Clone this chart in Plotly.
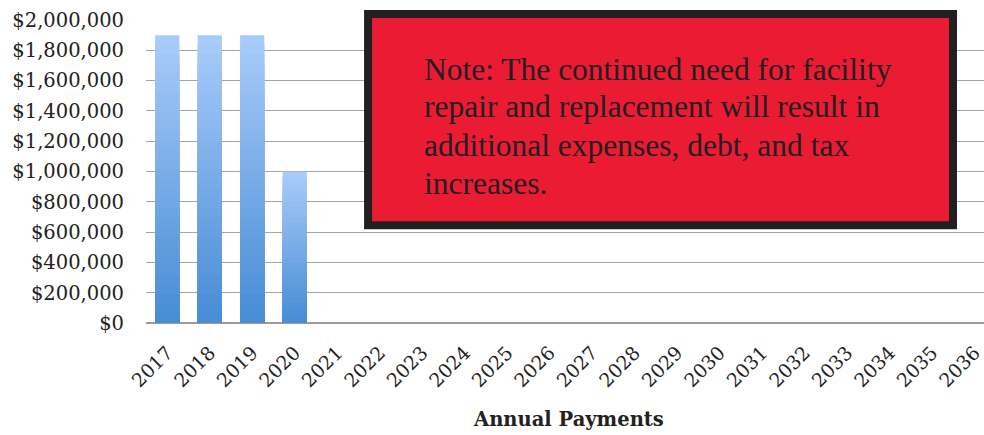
import plotly.graph_objects as go

years = [str(y) for y in range(2017, 2037)]
payments = [1900000, 1900000, 1900000, 1000000] + [0] * 16
y_ticks = list(range(0, 2000001, 200000))
x_title = "Annual Payments"
note_lines = [
    "Note: The continued need for facility",
    "repair and replacement will result in",
    "additional expenses, debt, and tax",
    "increases.",
]

top_rgb = (168, 203, 250)
bot_rgb = (72, 141, 213)
N = 30

fig = go.Figure()
for k in range(N):
    f = 1 - k / N
    t = k / (N - 1)
    c = tuple(round(top_rgb[i] + (bot_rgb[i] - top_rgb[i]) * t) for i in range(3))
    fig.add_trace(go.Bar(
        x=years,
        y=[v * f for v in payments],
        marker=dict(color="rgb(%d,%d,%d)" % c, line=dict(width=0)),
        width=0.57,
        showlegend=False,
        hoverinfo="skip",
    ))

fig.update_layout(
    barmode="overlay",
    width=984, height=435,
    margin=dict(l=146, r=0, t=20, b=112, autoexpand=False),
    paper_bgcolor="white",
    plot_bgcolor="white",
    font=dict(family="DejaVu Serif", color="#222222", size=19),
    xaxis=dict(
        type="category",
        automargin=False,
        range=[-0.5, 19.22],
        tickangle=-45,
        tickfont=dict(size=19, family="DejaVu Serif"),
        ticklabelstandoff=14,
        showgrid=False,
        showline=False,
        ticks="",
    ),
    yaxis=dict(
        automargin=False,
        range=[0, 2000000],
        tickvals=y_ticks,
        tickformat="$,.0f",
        tickfont=dict(size=19.5, family="DejaVu Serif"),
        ticklabelstandoff=21,
        gridcolor="#a4a4a4",
        gridwidth=1,
        zeroline=True,
        zerolinecolor="#9c9c9c",
        zerolinewidth=1.5,
        showline=False,
        ticks="",
        ticklen=0,
    ),
)

fig.add_annotation(
    xref="paper", yref="paper", x=0.504, y=-0.320,
    xanchor="center", yanchor="middle", showarrow=False,
    text="<b>%s</b>" % x_title,
    font=dict(family="DejaVu Serif", size=19.5, color="#222222"),
)

fig.add_shape(type="rect", xref="paper", yref="paper",
              x0=0.265, x1=0.963, y0=0.323, y1=1.020,
              line=dict(color="#231f20", width=8), fillcolor="#ec1b34", layer="above")

line_y = [0.838, 0.713, 0.587, 0.462]
for txt, yy in zip(note_lines, line_y):
    fig.add_annotation(
        xref="paper", yref="paper", x=0.329, y=yy,
        xanchor="left", yanchor="middle", align="left", showarrow=False,
        text=txt,
        font=dict(family="Liberation Serif", size=31.5, color="#231f20"),
    )

fig.write_html("out.html", config={"displayModeBar": False},
               post_script="document.body.style.margin='0px';")
